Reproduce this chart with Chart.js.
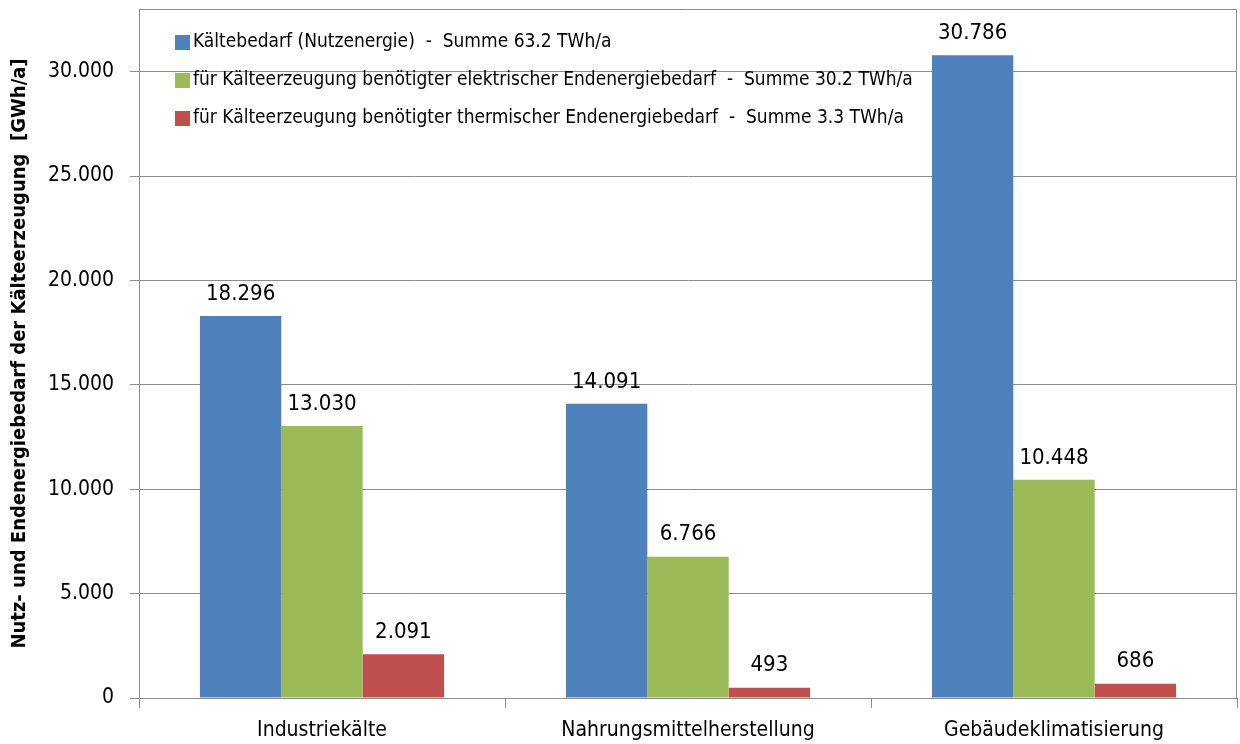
<!DOCTYPE html>
<html>
<head>
<meta charset="utf-8">
<script src="https://cdn.jsdelivr.net/npm/chart.js@4/dist/chart.umd.min.js"></script>
<style>
  html, body { margin: 0; padding: 0; background: #fff; }
  #wrap { width: 1240px; height: 744px; }
</style>
</head>
<body>
<div id="wrap"><canvas id="myChart" width="1240" height="744"></canvas></div>
<script>
// categories and values (GWh/a)
const categories = ['Industriekälte', 'Nahrungsmittelherstellung', 'Gebäudeklimatisierung'];
const nutzenergie = [18296, 14091, 30786];
const elektrisch = [13030, 6766, 10448];
const thermisch = [2091, 493, 686];
const seriesLabels = [
  'Kältebedarf (Nutzenergie)  -  Summe 63.2 TWh/a',
  'für Kälteerzeugung benötigter elektrischer Endenergiebedarf  -  Summe 30.2 TWh/a',
  'für Kälteerzeugung benötigter thermischer Endenergiebedarf  -  Summe 3.3 TWh/a'
];
const yTicks = [0, 5000, 10000, 15000, 20000, 25000, 30000];

const FONT = '"Liberation Sans Narrow", "DejaVu Sans Condensed", "Roboto", sans-serif';

let fmt = v => String(v).replace(/\B(?=(\d{3})+(?!\d))/g, '.');

// value labels above bars
const valueLabels = {
  id: 'valueLabels',
  afterDatasetsDraw(chart) {
    const ctx = chart.ctx;
    ctx.save();
    ctx.font = '22px ' + FONT;
    ctx.fillStyle = '#000';
    ctx.textAlign = 'center';
    ctx.textBaseline = 'bottom';
    chart.data.datasets.forEach((ds, i) => {
      chart.getDatasetMeta(i).data.forEach((bar, j) => {
        ctx.fillText(fmt(ds.data[j]), bar.x, bar.y - 11);
      });
    });
    ctx.restore();
  }
};

// frame + legend inside the plot area
const frameLegend = {
  id: 'frameLegend',
  afterDraw(chart) {
    const ctx = chart.ctx;
    const a = chart.chartArea;
    ctx.save();
    ctx.strokeStyle = '#8c8c8c';
    ctx.lineWidth = 1;
    ctx.beginPath();
    ctx.moveTo(a.left, a.top + 0.5);
    ctx.lineTo(a.right - 0.5, a.top + 0.5);
    ctx.lineTo(a.right - 0.5, a.bottom);
    ctx.stroke();

    ctx.font = '19px ' + FONT;
    ctx.textBaseline = 'middle';
    ctx.textAlign = 'left';
    chart.data.datasets.forEach((ds, i) => {
      const y = 42 + i * 38;
      ctx.fillStyle = ds.backgroundColor;
      ctx.fillRect(175, y - 7, 15, 15);
      ctx.fillStyle = '#000';
      ctx.fillText(ds.label, 193, y);
    });
    ctx.restore();
  }
};

const ctx = document.getElementById('myChart').getContext('2d');
const chart = new Chart(ctx, {
  type: 'bar',
  data: {
    labels: categories,
    datasets: [
      { label: seriesLabels[0], data: nutzenergie, backgroundColor: '#4F81BD' },
      { label: seriesLabels[1], data: elektrisch, backgroundColor: '#9BBB59' },
      { label: seriesLabels[2], data: thermisch, backgroundColor: '#C0504D' }
    ]
  },
  options: {
    responsive: false,
    animation: false,
    layout: { padding: { left: 0, top: 9, right: 3, bottom: 0 } },
    datasets: { bar: { categoryPercentage: 0.667, barPercentage: 1.0 } },
    plugins: {
      legend: { display: false },
      tooltip: { enabled: false }
    },
    scales: {
      x: {
        afterFit: s => { s.height = 46; s.paddingLeft = 0; s.paddingRight = 0; },
        grid: { offset: true, drawOnChartArea: false, color: '#8c8c8c', tickLength: 10 },
        border: { color: '#8c8c8c' },
        ticks: { color: '#000', padding: 10, font: { family: FONT, size: 21 } }
      },
      y: {
        min: 0,
        max: 33000,
        afterFit: s => { s.width = 139; s.paddingTop = 0; s.paddingBottom = 0; },
        afterBuildTicks: s => { s.ticks = yTicks.map(v => ({ value: v })); },
        grid: { color: '#8c8c8c', tickLength: 9 },
        border: { color: '#8c8c8c' },
        ticks: {
          color: '#000',
          padding: 16,
          font: { family: FONT, size: 21 },
          callback: v => fmt(v)
        },
        title: {
          display: true,
          text: 'Nutz- und Endenergiebedarf der Kälteerzeugung  [GWh/a]',
          color: '#000',
          font: { family: FONT, size: 20, weight: 'bold' },
          padding: { top: 8, bottom: 0 }
        }
      }
    }
  },
  plugins: [valueLabels, frameLegend]
});
</script>
</body>
</html>
